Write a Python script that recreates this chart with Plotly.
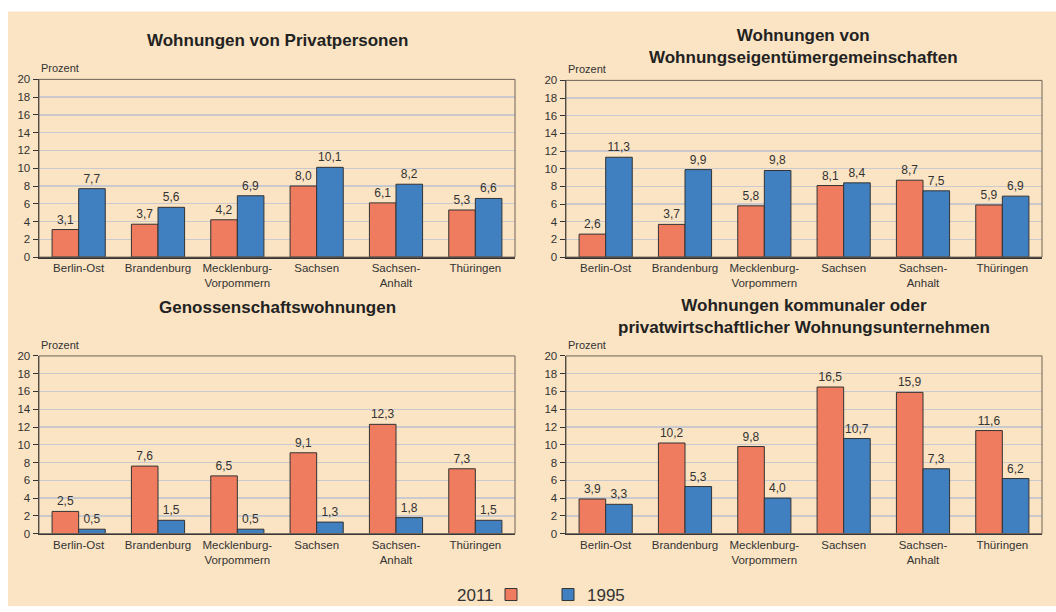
import plotly.graph_objects as go

categories = ["Berlin-Ost", "Brandenburg", "Mecklenburg-<br>Vorpommern", "Sachsen", "Sachsen-<br>Anhalt", "Thüringen"]
years = ["2011", "1995"]

privat_2011 = [3.1, 3.7, 4.2, 8.0, 6.1, 5.3]
privat_1995 = [7.7, 5.6, 6.9, 10.1, 8.2, 6.6]
weg_2011 = [2.6, 3.7, 5.8, 8.1, 8.7, 5.9]
weg_1995 = [11.3, 9.9, 9.8, 8.4, 7.5, 6.9]
geno_2011 = [2.5, 7.6, 6.5, 9.1, 12.3, 7.3]
geno_1995 = [0.5, 1.5, 0.5, 1.3, 1.8, 1.5]
komm_2011 = [3.9, 10.2, 9.8, 16.5, 15.9, 11.6]
komm_1995 = [3.3, 5.3, 4.0, 10.7, 7.3, 6.2]

titles = [
    "Wohnungen von Privatpersonen",
    "Wohnungen von<br>Wohnungseigentümergemeinschaften",
    "Genossenschaftswohnungen",
    "Wohnungen kommunaler oder<br>privatwirtschaftlicher Wohnungsunternehmen",
]
y_ticks = [0, 2, 4, 6, 8, 10, 12, 14, 16, 18, 20]
y_label = "Prozent"

W, H = 1056, 612
C2011 = "#EF7C5E"
C1995 = "#4080C0"
PAPER_BEIGE = "#FBE4C3"
PLOT_BG = "#FDF5E9"
FONT = "Arial, Liberation Sans, sans-serif"

# the page is photographed slightly compressed vertically; map screen px -> figure px
SY, OY = 0.982, 5.5

def px_x(x):
    return x / W

def fy(s):
    return (s - OY) / SY

def px_y(s):
    return 1 - fy(s) / H

# plot areas in screen pixels: (x0, x1, ytop, ybottom)
areas = [
    (39, 515, 79, 257),
    (566, 1042, 80, 257),
    (39, 515, 356, 534),
    (566, 1042, 356, 534),
]
title_pos = [(277, 40), (803, 46), (277, 307), (804, 317)]

series = [
    (privat_2011, privat_1995),
    (weg_2011, weg_1995),
    (geno_2011, geno_1995),
    (komm_2011, komm_1995),
]

fig = go.Figure()
layout = dict(
    width=W, height=H,
    margin=dict(l=0, r=0, t=0, b=0),
    paper_bgcolor="white",
    plot_bgcolor=PLOT_BG,
    separators=",.",
    barmode="group",
    bargap=0.33,
    bargroupgap=0,
    showlegend=False,
    hovermode=False,
    font=dict(family=FONT, color="#222222"),
)
annotations = []
shapes = [
    dict(type="rect", xref="paper", yref="paper", x0=px_x(8), x1=1, y0=0, y1=px_y(11),
         fillcolor=PAPER_BEIGE, line=dict(width=0), layer="below"),
]

for i, ((v11, v95), (x0, x1, yt, yb)) in enumerate(zip(series, areas)):
    n = i + 1
    xa = "x" if n == 1 else f"x{n}"
    ya = "y" if n == 1 else f"y{n}"
    for vals, name, col in ((v11, years[0], C2011), (v95, years[1], C1995)):
        fig.add_trace(go.Bar(
            x=categories, y=vals, name=name, xaxis=xa, yaxis=ya,
            marker=dict(color=col, line=dict(color="#333333", width=1)),
            texttemplate="%{y:.1f}", textposition="outside",
            textfont=dict(size=12, color="#333333", family=FONT),
            cliponaxis=False,
        ))
    layout["xaxis" if n == 1 else f"xaxis{n}"] = dict(
        domain=[px_x(x0), px_x(x1)], anchor=ya,
        showline=True, linecolor="#333333", linewidth=1.5,
        mirror=False, ticks="", showgrid=False,
        tickfont=dict(size=11.5, color="#333333"),
        fixedrange=True,
    )
    layout["yaxis" if n == 1 else f"yaxis{n}"] = dict(
        domain=[px_y(yb), px_y(yt)], anchor=xa,
        range=[0, 20], tickvals=y_ticks,
        showline=True, linecolor="#333333", linewidth=1.5,
        ticks="outside", ticklen=5, tickcolor="#333333", tickwidth=1,
        showgrid=True, gridcolor="#C9C9CE", gridwidth=1.3,
        zeroline=False,
        tickfont=dict(size=11.5, color="#333333"),
        fixedrange=True,
    )
    shapes.append(dict(type="rect", xref="paper", yref="paper",
                       x0=px_x(x0), x1=px_x(x1), y0=px_y(yb), y1=px_y(yt),
                       line=dict(color="#6E6258", width=1), fillcolor="rgba(0,0,0,0)", layer="above"))
    tx, ty = title_pos[i]
    annotations.append(dict(text=f"<b>{titles[i]}</b>", xref="paper", yref="paper",
                            x=px_x(tx), y=px_y(ty), xanchor="center", yanchor="middle",
                            showarrow=False, font=dict(size=17, color="#222222")))
    annotations.append(dict(text=y_label, xref="paper", yref="paper",
                            x=px_x(x0), y=px_y(yt - 3), xanchor="left", yanchor="bottom",
                            showarrow=False, font=dict(size=11, color="#333333")))

# legend
annotations.append(dict(text=years[0], xref="paper", yref="paper", x=px_x(496), y=px_y(596),
                        xanchor="right", yanchor="middle", showarrow=False,
                        font=dict(size=17, color="#333333")))
annotations.append(dict(text=years[1], xref="paper", yref="paper", x=px_x(585), y=px_y(596),
                        xanchor="left", yanchor="middle", showarrow=False,
                        font=dict(size=17, color="#333333")))
shapes.append(dict(type="rect", xref="paper", yref="paper", x0=px_x(505), x1=px_x(517),
                   y0=px_y(601), y1=px_y(589), fillcolor=C2011, line=dict(color="#333333", width=1)))
shapes.append(dict(type="rect", xref="paper", yref="paper", x0=px_x(562), x1=px_x(574),
                   y0=px_y(601), y1=px_y(589), fillcolor=C1995, line=dict(color="#333333", width=1)))

layout["annotations"] = annotations
layout["shapes"] = shapes
fig.update_layout(**layout)
fig.write_html(
    "out.html",
    config={"displayModeBar": False, "staticPlot": True},
    post_script=(
        "document.body.style.margin='0';"
        "document.body.style.overflow='hidden';"
        "document.body.style.background='transparent';"
        "document.documentElement.style.background="
        "'linear-gradient(#ffffff 0%, #ffffff 50%, " + PAPER_BEIGE + " 50%, " + PAPER_BEIGE + " 100%)';"
    ),
)
